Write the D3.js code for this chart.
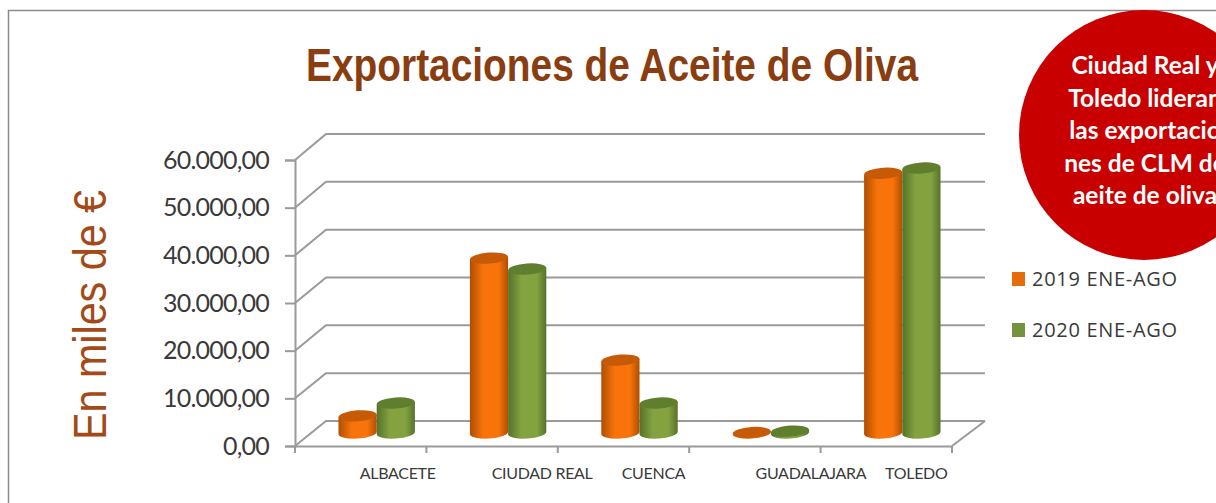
<!DOCTYPE html>
<html>
<head>
<meta charset="utf-8">
<script src="https://cdn.jsdelivr.net/npm/d3@7"></script>
<style>
  html, body { margin: 0; padding: 0; background: #fff; overflow: hidden; }
  svg { display: block; }
  .y-axis text { font-family: "Lato", sans-serif; font-size: 25px; letter-spacing: -0.8px; fill: #3a3a3a; }
  .x-axis text { font-family: "Lato", sans-serif; font-size: 16px; letter-spacing: -0.3px; fill: #3a3a3a; }
  .y-axis line, .y-axis path, .x-axis line, .x-axis path { stroke: #9a9a9a; stroke-width: 2; }
</style>
</head>
<body>
<script>
var categories = ["ALBACETE", "CIUDAD REAL", "CUENCA", "GUADALAJARA", "TOLEDO"];
var seriesNames = ["2019 ENE-AGO", "2020 ENE-AGO"];
var values2019 = [3600, 36700, 15300, 100, 54500];
var values2020 = [6300, 34400, 6300, 400, 55600];
var yTicks = [0, 10000, 20000, 30000, 40000, 50000, 60000];
var calloutLines = ["Ciudad Real y", "Toledo lideran", "las exportacio", "nes de CLM de", "aeite de oliva"];

// the category labels sit off centre in the original
var labelShift = [37, 50, 30, 56, 30];

var colors = {
  "2019 ENE-AGO": { dark: "#b04e02", mid: "#f8740a", top: "#c75a06", key: "#e46c0a" },
  "2020 ENE-AGO": { dark: "#55722b", mid: "#84a340", top: "#5f7f2f", key: "#76923c" }
};

var svg = d3.select("body").append("svg").attr("width", 1216).attr("height", 503);
var defs = svg.append("defs");

seriesNames.forEach(function(name, i) {
  var g = defs.append("linearGradient").attr("id", "cyl" + i);
  g.append("stop").attr("offset", "0%").attr("stop-color", colors[name].dark);
  g.append("stop").attr("offset", "35%").attr("stop-color", colors[name].mid);
  g.append("stop").attr("offset", "75%").attr("stop-color", colors[name].mid);
  g.append("stop").attr("offset", "100%").attr("stop-color", colors[name].dark);
});

// outer frame, only top and left fall inside the crop
svg.append("path")
  .attr("d", "M1216,10.5H8.5V503")
  .attr("fill", "none").attr("stroke", "#8c8c8c").attr("stroke-width", 1.5);

svg.append("text")
  .attr("x", 306).attr("y", 81)
  .attr("textLength", 612).attr("lengthAdjust", "spacingAndGlyphs")
  .style("font-family", "'Liberation Sans Narrow', 'Liberation Sans', sans-serif")
  .style("font-weight", "bold").style("font-size", "47px").style("fill", "#8a3d10")
  .text("Exportaciones de Aceite de Oliva");

svg.append("text")
  .attr("transform", "translate(106,440) rotate(-90)")
  .attr("textLength", 250).attr("lengthAdjust", "spacingAndGlyphs")
  .style("font-family", "'Liberation Sans Narrow', 'Liberation Sans', sans-serif")
  .style("font-size", "46px").style("fill", "#a34b18")
  .text("En miles de €");

var xScale = d3.scaleBand().domain(categories).range([295, 952]);
var yFront = d3.scaleLinear().domain([0, 60000]).range([446, 160]);
var yBack = d3.scaleLinear().domain([0, 60000]).range([421, 134]);
var xSeries = d3.scaleBand().domain(seriesNames).range([0, 76.4]);

var backLeft = 326, backRight = 985;

var grid = svg.append("g").attr("fill", "none").attr("stroke", "#9a9a9a").attr("stroke-width", 2);
yTicks.forEach(function(t) {
  grid.append("path")
    .attr("d", d3.line()([[xScale.range()[0], yFront(t)], [backLeft, yBack(t)], [backRight, yBack(t)]]));
});
// right edge of the floor
grid.append("path")
  .attr("d", d3.line()([[xScale.range()[1], yFront(0)], [backRight, yBack(0)]]));

svg.append("g")
  .attr("class", "y-axis")
  .attr("transform", "translate(295,0)")
  .call(d3.axisLeft(yFront).tickValues(yTicks).tickSize(10).tickPadding(16)
    .tickFormat(function(d) { return d3.format(",")(d).replace(/,/g, ".") + ",00"; }));

var xAxisG = svg.append("g")
  .attr("class", "x-axis")
  .attr("transform", "translate(0,446)")
  .call(d3.axisBottom(xScale).tickValues([]).tickSizeOuter(0));

xAxisG.selectAll(".edge")
  .data(d3.range(categories.length + 1))
  .enter().append("line")
  .attr("class", "edge")
  .attr("x1", function(i) { return 295 + i * xScale.bandwidth(); })
  .attr("x2", function(i) { return 295 + i * xScale.bandwidth(); })
  .attr("y1", 0).attr("y2", 7);

xAxisG.selectAll(".cat")
  .data(categories)
  .enter().append("text")
  .attr("class", "cat")
  .attr("text-anchor", "middle")
  .attr("x", function(d, i) { return xScale(d) + xScale.bandwidth() / 2 + labelShift[i]; })
  .attr("y", 33)
  .text(function(d) { return d; });

// cylinders stand part way into the floor depth
var barShiftX = 43.5, barShiftY = 13, ry = 5.5, tilt = -4;

function cylinderBody(x, w, yTop, yBase) {
  var rx = w / 2, lean = 1.3;
  return "M" + x + "," + (yTop + lean) +
    "L" + x + "," + (yBase + lean) +
    "A" + rx + "," + ry + " " + tilt + " 0 0 " + (x + w) + "," + (yBase - lean) +
    "L" + (x + w) + "," + (yTop - lean) + "Z";
}

[values2019, values2020].forEach(function(values, s) {
  var name = seriesNames[s];
  var w = xSeries.bandwidth();
  var bars = svg.append("g").attr("class", "series-" + s)
    .selectAll("g").data(values).enter().append("g");

  bars.append("path")
    .attr("fill", "url(#cyl" + s + ")")
    .attr("d", function(d, i) {
      var x = xScale(categories[i]) + barShiftX + xSeries(name);
      return cylinderBody(x, w, yFront(d) - barShiftY, yFront(0) - barShiftY);
    });

  bars.append("ellipse")
    .attr("fill", colors[name].top)
    .attr("rx", w / 2).attr("ry", ry)
    .attr("transform", function(d, i) {
      var cx = xScale(categories[i]) + barShiftX + xSeries(name) + w / 2;
      return "translate(" + cx + "," + (yFront(d) - barShiftY) + ") rotate(" + tilt + ")";
    });
});

// red callout, runs off the right edge
svg.append("circle").attr("cx", 1144).attr("cy", 135).attr("r", 125).attr("fill", "#c90000");

svg.append("g").selectAll("text")
  .data(calloutLines).enter().append("text")
  .attr("x", 1145)
  .attr("y", function(d, i) { return 74 + i * 32.5; })
  .attr("text-anchor", "middle")
  .style("font-family", "Lato, sans-serif").style("font-weight", "bold")
  .style("font-size", "24.5px").style("fill", "#fff")
  .text(function(d) { return d; });

var legend = svg.append("g").selectAll("g")
  .data(seriesNames).enter().append("g")
  .attr("transform", function(d, i) { return "translate(1012," + (272 + i * 51) + ")"; });

legend.append("rect").attr("width", 13).attr("height", 14)
  .attr("fill", function(d) { return colors[d].key; });

legend.append("text")
  .attr("x", 20).attr("y", 14)
  .style("font-family", "'Open Sans', sans-serif").style("font-size", "20px")
  .style("letter-spacing", "0.7px").style("fill", "#3a3a3a")
  .text(function(d) { return d; });
</script>
</body>
</html>
